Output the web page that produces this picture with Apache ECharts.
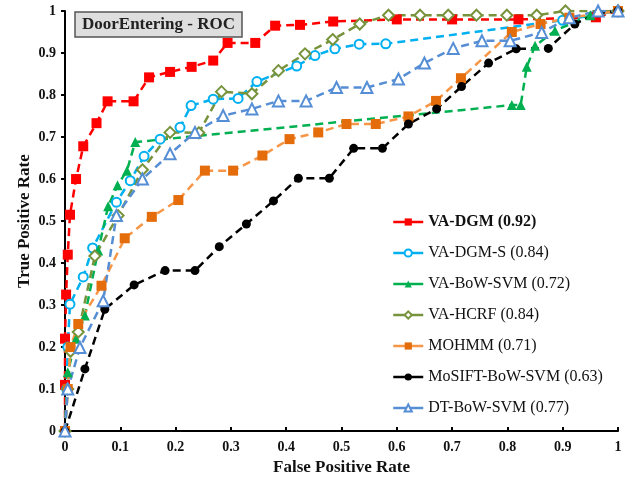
<!DOCTYPE html>
<html>
<head>
<meta charset="utf-8">
<script src="https://cdn.jsdelivr.net/npm/echarts@6/dist/echarts.min.js"></script>
<style>
  html, body { margin: 0; padding: 0; background: #fff; }
  #main { width: 639px; height: 481px; }
</style>
</head>
<body>
<div id="main"></div>
<script>
// ROC points, [FPR, TPR]
const vaDgm = [[0,0],[0,0.11],[0,0.22],[0.002,0.325],[0.005,0.42],[0.009,0.515],[0.02,0.6],[0.033,0.678],
  [0.057,0.733],[0.077,0.785],[0.124,0.785],[0.152,0.842],[0.19,0.855],[0.229,0.867],[0.268,0.882],
  [0.294,0.924],[0.344,0.924],[0.38,0.965],[0.425,0.967],[0.485,0.975],[0.6,0.98],[0.7,0.98],
  [0.82,0.98],[0.96,0.985],[1,1]];
const vaDgmS = [[0,0],[0.003,0.1],[0.005,0.2],[0.009,0.302],[0.033,0.367],[0.05,0.436],[0.093,0.545],
  [0.118,0.596],[0.143,0.654],[0.172,0.695],[0.208,0.723],[0.228,0.775],[0.268,0.79],[0.313,0.792],
  [0.347,0.832],[0.419,0.869],[0.452,0.894],[0.488,0.91],[0.532,0.921],[0.58,0.922],[0.9,0.978],[1,1]];
const vaBowSvm = [[0,0],[0.005,0.14],[0.02,0.22],[0.036,0.275],[0.06,0.43],[0.078,0.535],[0.095,0.585],
  [0.112,0.62],[0.127,0.688],[0.808,0.776],[0.824,0.776],[0.835,0.867],[0.85,0.917],[0.886,0.953],
  [0.95,0.99],[1,1]];
const vaHcrf = [[0,0],[0.005,0.1],[0.01,0.19],[0.024,0.236],[0.054,0.417],[0.096,0.513],[0.14,0.622],
  [0.19,0.711],[0.242,0.71],[0.283,0.808],[0.338,0.803],[0.386,0.858],[0.434,0.898],[0.484,0.932],
  [0.533,0.969],[0.585,0.99],[0.642,0.99],[0.693,0.99],[0.744,0.99],[0.799,0.99],[0.853,0.99],
  [0.905,1],[1,1]];
const mohmm = [[0,0],[0.005,0.1],[0.01,0.2],[0.024,0.255],[0.066,0.346],[0.108,0.459],[0.157,0.51],
  [0.205,0.55],[0.253,0.62],[0.304,0.62],[0.357,0.656],[0.406,0.695],[0.458,0.711],[0.509,0.731],
  [0.562,0.731],[0.621,0.749],[0.671,0.786],[0.716,0.84],[0.808,0.95],[0.86,0.969],[0.912,0.984],[1,1]];
const mosift = [[0,0],[0.036,0.148],[0.072,0.29],[0.125,0.348],[0.181,0.382],[0.235,0.382],[0.279,0.439],
  [0.328,0.493],[0.377,0.548],[0.422,0.602],[0.478,0.602],[0.522,0.673],[0.574,0.673],[0.621,0.731],
  [0.672,0.767],[0.717,0.82],[0.766,0.876],[0.816,0.91],[0.874,0.911],[0.922,0.969],[0.964,0.995],[1,1]];
const dtBowSvm = [[0,0],[0.005,0.1],[0.027,0.199],[0.069,0.31],[0.093,0.513],[0.14,0.6],[0.19,0.66],
  [0.235,0.711],[0.286,0.751],[0.338,0.767],[0.386,0.786],[0.436,0.786],[0.491,0.818],[0.546,0.818],
  [0.603,0.838],[0.65,0.876],[0.702,0.911],[0.754,0.929],[0.805,0.929],[0.862,0.949],[0.912,0.984],
  [0.964,1],[1,1]];

const names = ['VA-DGM (0.92)', 'VA-DGM-S (0.84)', 'VA-BoW-SVM (0.72)', 'VA-HCRF (0.84)',
  'MOHMM (0.71)', 'MoSIFT-BoW-SVM (0.63)', 'DT-BoW-SVM (0.77)'];

const serif = 'Liberation Serif';
const chart = echarts.init(document.getElementById('main'));

function roc(name, data, line, marker, symbol, size) {
  return {
    name: name,
    type: 'line',
    data: data,
    symbol: symbol,
    symbolSize: size,
    showAllSymbol: true,
    lineStyle: { color: line, width: 2.5, type: [8, 5] },
    itemStyle: { color: marker, borderWidth: symbol.indexOf('empty') === 0 ? 2 : 0 },
    emphasis: { disabled: true },
    animation: false
  };
}

chart.setOption({
  backgroundColor: '#fff',
  title: {
    text: 'DoorEntering - ROC',
    left: 75, top: 12,
    padding: [4, 7],
    backgroundColor: '#dedede',
    borderColor: '#555',
    borderWidth: 1.5,
    textStyle: { fontFamily: serif, fontWeight: 'bold', fontSize: 17, color: '#222' }
  },
  grid: { left: 65, right: 21, top: 11, bottom: 48 },
  legend: {
    orient: 'vertical',
    left: 387, top: 209,
    itemWidth: 30, itemHeight: 9, itemGap: 15,
    data: names,
    lineStyle: { type: 'solid', width: 2.5 },
    formatter: function (n) { return n === names[0] ? '{b|' + n + '}' : n; },
    textStyle: {
      fontFamily: serif, fontSize: 16, color: '#111',
      rich: { b: { fontFamily: serif, fontSize: 16, fontWeight: 'bold', color: '#111' } }
    }
  },
  xAxis: {
    type: 'value', min: 0, max: 1, interval: 0.1,
    name: 'False Positive Rate', nameLocation: 'middle', nameGap: 27,
    nameTextStyle: { fontFamily: serif, fontWeight: 'bold', fontSize: 17, color: '#111' },
    axisLine: { lineStyle: { color: '#000', width: 2 } },
    axisTick: { inside: true, length: 4, lineStyle: { color: '#000', width: 2 } },
    axisLabel: { fontFamily: serif, fontWeight: 'bold', fontSize: 14, color: '#111', margin: 9 },
    splitLine: { show: false }
  },
  yAxis: {
    type: 'value', min: 0, max: 1, interval: 0.1,
    name: 'True Positive Rate', nameLocation: 'middle', nameGap: 32,
    nameMoveOverlap: false,
    nameTextStyle: { fontFamily: serif, fontWeight: 'bold', fontSize: 17, color: '#111' },
    axisLine: { show: true, lineStyle: { color: '#000', width: 2 } },
    axisTick: { show: true, inside: false, length: 4, lineStyle: { color: '#000', width: 2 } },
    axisLabel: { fontFamily: serif, fontWeight: 'bold', fontSize: 14, color: '#111', margin: 9 },
    splitLine: { show: false }
  },
  series: [
    roc(names[0], vaDgm, '#ff0000', '#ff0000', 'rect', 10),
    roc(names[1], vaDgmS, '#00b0f0', '#00b0f0', 'emptyCircle', 9),
    roc(names[2], vaBowSvm, '#00b050', '#00b050', 'triangle', 10),
    roc(names[3], vaHcrf, '#77933c', '#77933c', 'emptyDiamond', 11),
    roc(names[4], mohmm, '#f79646', '#e46c0a', 'rect', 10),
    roc(names[5], mosift, '#000000', '#000000', 'circle', 9),
    roc(names[6], dtBowSvm, '#558ed5', '#558ed5', 'emptyTriangle', 11)
  ]
});
</script>
</body>
</html>
